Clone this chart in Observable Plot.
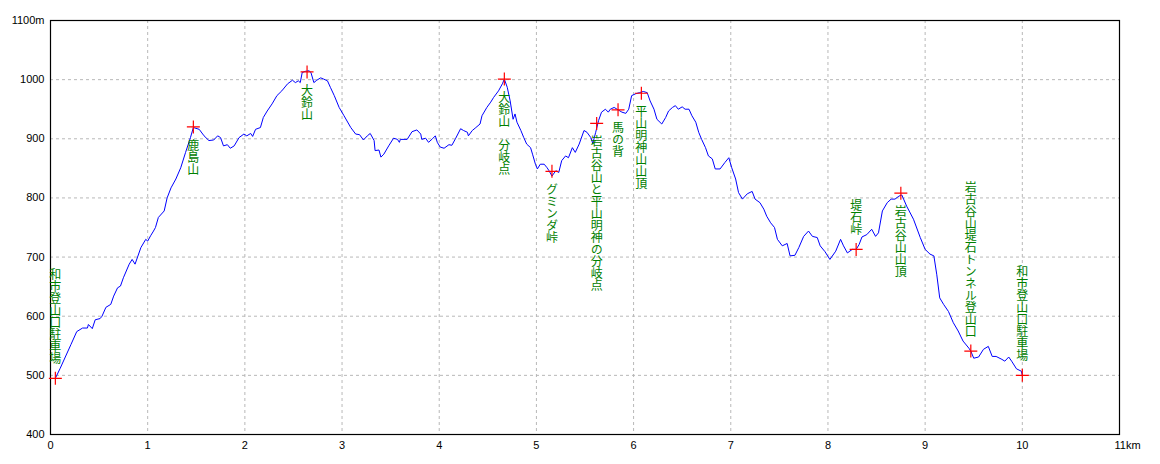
<!DOCTYPE html>
<html><head><meta charset="utf-8">
<script src="https://cdn.jsdelivr.net/npm/d3@7"></script>
<script src="https://cdn.jsdelivr.net/npm/@observablehq/plot@0.6"></script>
<style>
body{margin:0;background:#fff}
.vlabel text{writing-mode:vertical-rl;text-orientation:mixed;}
</style>
</head><body><div id="chart"></div>
<script>
// Elevation profile (km, m)
const distKm = [0.05,0.10,0.21,0.27,0.33,0.38,0.39,0.43,0.46,0.51,0.53,0.57,0.62,0.65,0.69,0.72,0.75,0.81,0.84,0.87,0.93,0.98,1.00,1.03,1.06,1.08,1.11,1.17,1.20,1.24,1.29,1.34,1.39,1.44,1.47,1.53,1.58,1.63,1.68,1.72,1.75,1.78,1.82,1.85,1.89,1.94,1.99,2.02,2.06,2.08,2.11,2.16,2.19,2.23,2.28,2.33,2.38,2.44,2.49,2.52,2.55,2.57,2.59,2.62,2.66,2.68,2.71,2.74,2.78,2.81,2.85,2.88,2.92,2.97,3.02,3.09,3.14,3.18,3.22,3.26,3.29,3.33,3.34,3.38,3.40,3.43,3.48,3.53,3.57,3.59,3.60,3.67,3.72,3.77,3.81,3.82,3.86,3.89,3.93,3.96,3.98,4.01,4.05,4.10,4.13,4.17,4.22,4.25,4.29,4.30,4.34,4.37,4.42,4.44,4.49,4.53,4.56,4.61,4.65,4.67,4.70,4.73,4.76,4.78,4.80,4.84,4.87,4.90,4.94,4.96,4.99,5.01,5.04,5.08,5.11,5.13,5.16,5.20,5.23,5.26,5.30,5.33,5.37,5.40,5.44,5.49,5.52,5.56,5.58,5.61,5.64,5.67,5.71,5.74,5.76,5.80,5.84,5.88,5.92,5.95,5.98,6.02,6.06,6.10,6.14,6.17,6.21,6.24,6.29,6.33,6.36,6.40,6.43,6.46,6.50,6.53,6.57,6.60,6.64,6.67,6.70,6.74,6.77,6.81,6.84,6.89,6.94,6.98,7.01,7.05,7.08,7.12,7.17,7.22,7.25,7.30,7.34,7.37,7.41,7.45,7.48,7.53,7.58,7.61,7.66,7.70,7.75,7.80,7.84,7.89,7.92,7.97,8.02,8.08,8.13,8.16,8.20,8.25,8.29,8.32,8.35,8.40,8.45,8.49,8.52,8.56,8.61,8.65,8.69,8.73,8.76,8.81,8.88,8.95,9.00,9.05,9.09,9.12,9.15,9.19,9.24,9.29,9.34,9.39,9.45,9.47,9.50,9.55,9.60,9.65,9.69,9.73,9.79,9.82,9.86,9.89,9.94,9.99,10.00];
const elevM = [495,512,552,574,580,580,586,579,594,596,600,615,620,634,648,651,665,688,696,688,716,730,727,736,744,750,767,778,800,817,832,851,877,902,919,916,905,897,898,905,902,888,890,884,888,902,908,905,909,904,916,919,936,947,959,973,981,993,999,995,998,995,1012,1014,1015,1012,995,999,1003,1001,998,987,973,953,939,919,908,907,898,905,909,897,880,881,869,874,888,901,899,894,899,899,912,915,908,899,901,894,900,905,894,886,884,890,889,901,917,914,911,905,914,918,925,939,953,962,970,981,993,1001,987,964,933,942,928,914,902,891,885,874,857,849,857,857,851,846,837,846,843,863,871,868,885,877,891,914,911,902,892,911,931,945,950,945,950,953,949,945,943,950,973,976,978,980,978,964,950,933,925,936,947,953,956,950,954,950,950,939,928,911,899,885,871,866,849,849,860,868,851,832,809,798,807,811,798,792,781,769,758,750,730,719,723,702,703,716,735,744,735,733,719,709,696,710,730,719,707,713,713,721,734,738,747,735,741,778,792,798,798,803,805,786,764,733,713,705,702,670,631,620,608,589,575,558,546,541,529,531,544,549,532,532,527,524,531,524,511,507,500];

// Waypoints
const placeNames = ["和市登山口駐車場","鹿島山","大鈴山","大鈴山　分岐点","グミンダ峠","岩古谷山と平山明神の分岐点","馬の背","平山明神山山頂","堤石峠","岩古谷山山頂","岩古谷山堤石トンネル登山口","和市登山口駐車場"];
const placeKm = [0.05,1.47,2.64,4.67,5.16,5.62,5.84,6.08,8.29,8.75,9.47,10.0];
const placeElev = [495,920,1013,1001,845,926,949,977,713,808,541,500];
const placeSide = ["above","below","below","below","below","below","below","below","above","below","above","above"];

const xTicks = [0,1,2,3,4,5,6,7,8,9,10];
const xLastTick = [11];
const yTicks = [400,500,600,700,800,900,1000,1100];

const profile = distKm.map((d, i) => ({km: d, elev: elevM[i]}));
const places = placeNames.map((n, i) => ({name: n, km: placeKm[i], elev: placeElev[i], side: placeSide[i]}));

const plusSymbol = {
  draw(ctx, size) {
    const r = Math.sqrt(size / Math.PI);
    ctx.moveTo(-r, 0); ctx.lineTo(r, 0);
    ctx.moveTo(0, -r); ctx.lineTo(0, r);
  }
};

const labelFont = "'Noto Sans CJK JP', sans-serif";

const chart = Plot.plot({
  width: 1160,
  height: 464,
  marginLeft: 50,
  marginRight: 41,
  marginTop: 20,
  marginBottom: 30,
  x: {domain: [0, 11]},
  y: {domain: [400, 1100]},
  style: {fontFamily: "'Liberation Sans', Arial, sans-serif", fontSize: "11px", background: "#fff", color: "#000"},
  marks: [
    Plot.gridX(xTicks.filter(d => d > 0), {stroke: "#b8b8b8", strokeOpacity: 1, strokeDasharray: "3,3"}),
    Plot.gridY(yTicks.filter(d => d > 400 && d < 1100), {stroke: "#b8b8b8", strokeOpacity: 1, strokeDasharray: "3,3"}),
    Plot.frame({stroke: "#000", strokeWidth: 1.2}),
    Plot.axisX({ticks: xTicks, tickSize: 0, tickPadding: 7, label: null, fill: "#000"}),
    Plot.axisX({ticks: xLastTick, tickSize: 0, tickPadding: 7, label: null, tickFormat: d => d + "km", textAnchor: "start", dx: -5, fill: "#000"}),
    Plot.axisY({ticks: yTicks, tickSize: 0, tickPadding: 6, label: null, tickFormat: d => d === 1100 ? d + "m" : String(d), fill: "#000"}),
    Plot.line(profile, {x: "km", y: "elev", stroke: "#0000ff", strokeWidth: 1}),
    Plot.dot(places, {x: "km", y: "elev", symbol: plusSymbol, r: 6.5, stroke: "#ff0000", fill: "none", strokeWidth: 1.2}),
    Plot.text(places.filter(d => d.side === "below"), {x: "km", y: "elev", text: "name", className: "vlabel", lineAnchor: "bottom", textAnchor: "start", dy: 12, fill: "#008000", fontFamily: labelFont, fontSize: 12}),
    Plot.text(places.filter(d => d.side === "above"), {x: "km", y: "elev", text: "name", className: "vlabel", lineAnchor: "bottom", textAnchor: "end", dy: -14, fill: "#008000", fontFamily: labelFont, fontSize: 12})
  ]
});
document.getElementById("chart").appendChild(chart);
</script>
</body></html>
